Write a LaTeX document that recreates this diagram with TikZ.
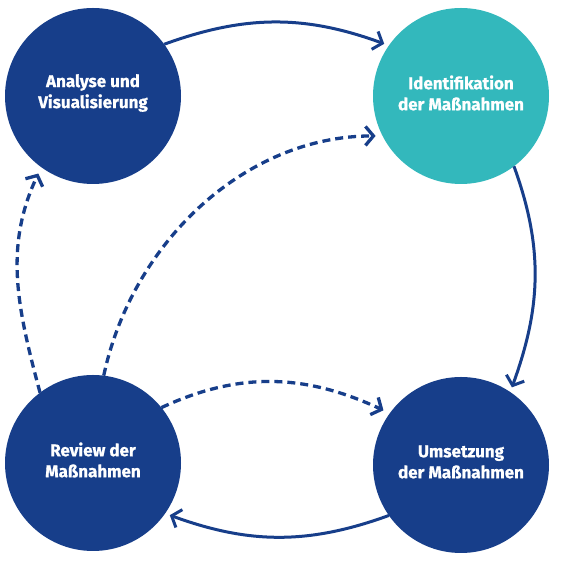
\documentclass[tikz,border=0pt]{standalone}
\usepackage{fontspec}
\setmainfont{Fira Sans}[BoldFeatures={FakeBold=0.8}]
\usetikzlibrary{arrows.meta}
\definecolor{navy}{HTML}{173E8A}
\definecolor{teal2}{HTML}{33B8BC}
\tikzset{
  circ/.style={circle, minimum size=176pt, inner sep=0pt, outer sep=0pt, draw=none},
  lbl/.style={text=white, align=center, font=\fontsize{17}{21}\selectfont\bfseries},
  tip/.style={-{Straight Barb[length=8pt,width=19pt]}},
  solidarrow/.style={draw=navy, line width=3pt, tip, shorten >=5pt},
  dasharrow/.style={draw=navy, line width=3.3pt, tip, dash pattern=on 8pt off 5pt, shorten >=7pt}
}
\begin{document}
\begin{tikzpicture}[x=1pt,y=1pt]
\useasboundingbox (0,0) rectangle (571,561);
\node[circ, fill=navy] (A) at (93,465) {};
\node[circ, fill=teal2] (B) at (461,465) {};
\node[circ, fill=navy] (C) at (461,96) {};
\node[circ, fill=navy] (D) at (93,98) {};
\node[lbl] (At) at ([yshift=3pt]A.center) {Analyse und\\Visualisierung};
\node[lbl] (Bt) at ([yshift=3pt]B.center) {Identifikation\\der Maßnahmen};
\node[lbl] (Ct) at ([yshift=3pt]C.center) {Umsetzung\\der Maßnahmen};
\node[lbl] (Dt) at ([yshift=3pt]D.center) {Review der\\Maßnahmen};
\draw[solidarrow] (A.36) to[out=20,in=160] (B.145);
\draw[solidarrow] (B.-53) to[out=-70,in=70] (C.56);
\draw[solidarrow] (C.215) to[out=200,in=-20] (D.-35);
\draw[dasharrow] (D.127) to[out=105,in=245] (A.234);
\draw[dasharrow] (D.83) to[out=78,in=180,looseness=0.95] (B.207);
\draw[dasharrow] (D.39) to[out=25,in=155] (C.144);
\end{tikzpicture}
\end{document}
